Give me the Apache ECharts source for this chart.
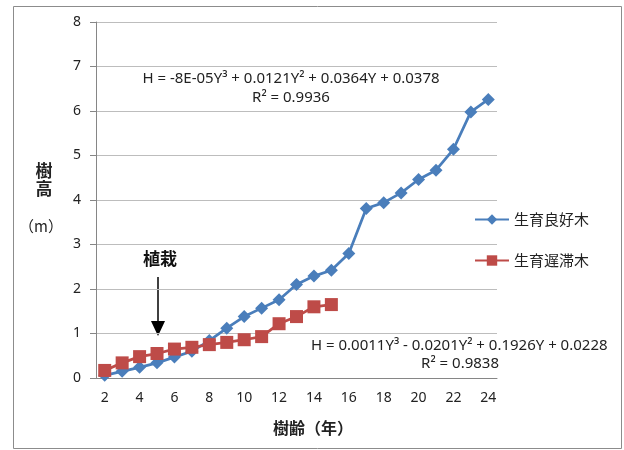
<!DOCTYPE html>
<html>
<head>
<meta charset="utf-8">
<script src="https://cdn.jsdelivr.net/npm/echarts@6/dist/echarts.min.js"></script>
<style>
  html, body { margin: 0; padding: 0; background: #fff; }
  #chart { width: 624px; height: 450px; }
</style>
</head>
<body>
<div id="chart"></div>
<script>
const FONT = '"Noto Sans", "Noto Sans CJK JP", sans-serif';
const JP = '"Noto Sans CJK JP", sans-serif';

const ages = ['2','3','4','5','6','7','8','9','10','11','12','13','14','15','16','17','18','19','20','21','22','23','24'];
const goodTrees = [0.06, 0.15, 0.24, 0.34, 0.47, 0.6, 0.84, 1.12, 1.38, 1.57, 1.76, 2.1, 2.29, 2.42, 2.8, 3.81, 3.94, 4.16, 4.46, 4.67, 5.14, 5.98, 6.26];
const slowTrees = [0.17, 0.34, 0.48, 0.55, 0.65, 0.69, 0.75, 0.8, 0.86, 0.93, 1.22, 1.38, 1.6, 1.65];
const goodName = '生育良好木';
const slowName = '生育遅滞木';
const eqGood = 'H = -8E-05Y³ + 0.0121Y² + 0.0364Y + 0.0378';
const r2Good = 'R² = 0.9936';
const eqSlow = 'H = 0.0011Y³ - 0.0201Y² + 0.1926Y + 0.0228';
const r2Slow = 'R² = 0.9838';

const chart = echarts.init(document.getElementById('chart'), null, { renderer: 'canvas' });

const option = {
  backgroundColor: '#fff',
  animation: false,
  grid: { left: 96, top: 22, width: 401, height: 356, containLabel: false },
  legend: {
    orient: 'vertical',
    left: 474,
    top: 212,
    padding: 0,
    itemGap: 26,
    itemWidth: 34,
    itemHeight: 13,
    textStyle: { fontFamily: JP, fontSize: 15, color: '#222' },
    data: [goodName, slowName]
  },
  xAxis: {
    type: 'category',
    data: ages,
    boundaryGap: true,
    axisLine: { lineStyle: { color: '#868686' } },
    axisTick: { interval: 0, length: 5, lineStyle: { color: '#868686' } },
    axisLabel: {
      interval: function (i) { return i % 2 === 0; },
      fontFamily: FONT, fontSize: 14, color: '#222', margin: 13
    }
  },
  yAxis: {
    type: 'value',
    min: 0, max: 8, interval: 1,
    axisLine: { show: true, lineStyle: { color: '#868686' } },
    axisTick: { show: true, length: 6, lineStyle: { color: '#868686' } },
    axisLabel: { fontFamily: FONT, fontSize: 14, color: '#222', margin: 15 },
    splitLine: { lineStyle: { color: '#bdbdbd' } }
  },
  series: [
    {
      name: goodName,
      type: 'line',
      data: goodTrees,
      symbol: 'diamond',
      symbolSize: 13,
      showAllSymbol: true,
      color: '#4a7ebb',
      lineStyle: { width: 2.75, color: '#4a7ebb' },
      itemStyle: { color: '#4a7ebb' },
      z: 2
    },
    {
      name: slowName,
      type: 'line',
      data: slowTrees,
      symbol: 'rect',
      symbolSize: 13,
      showAllSymbol: true,
      color: '#be4b48',
      lineStyle: { width: 2.75, color: '#be4b48' },
      itemStyle: { color: '#be4b48' },
      z: 3
    }
  ],
  graphic: [
    { type: 'rect', shape: { x: 13.5, y: 6.5, width: 608, height: 442 },
      style: { fill: 'none', stroke: '#8c8c8c', lineWidth: 1 }, silent: true },
    { type: 'text', x: 291, y: 79, style: { text: eqGood, fontFamily: FONT, fontSize: 15, fill: '#222', align: 'center', verticalAlign: 'middle' } },
    { type: 'text', x: 291, y: 98, style: { text: r2Good, fontFamily: FONT, fontSize: 15, fill: '#222', align: 'center', verticalAlign: 'middle' } },
    { type: 'text', x: 311, y: 346, style: { text: eqSlow, fontFamily: FONT, fontSize: 15, fill: '#222', align: 'left', verticalAlign: 'middle' } },
    { type: 'text', x: 499, y: 364, style: { text: r2Slow, fontFamily: FONT, fontSize: 15, fill: '#222', align: 'right', verticalAlign: 'middle' } },
    { type: 'text', x: 44, y: 171, style: { text: '樹', fontFamily: JP, fontSize: 17, fontWeight: 'bold', fill: '#222', align: 'center', verticalAlign: 'middle' } },
    { type: 'text', x: 44, y: 189, style: { text: '高', fontFamily: JP, fontSize: 17, fontWeight: 'bold', fill: '#222', align: 'center', verticalAlign: 'middle' } },
    { type: 'text', x: 41, y: 226, style: { text: '（m）', fontFamily: JP, fontSize: 15, fill: '#222', align: 'center', verticalAlign: 'middle' } },
    { type: 'text', x: 313, y: 428, style: { text: '樹齢（年）', fontFamily: JP, fontSize: 16, fontWeight: 'bold', fill: '#222', align: 'center', verticalAlign: 'middle' } },
    { type: 'text', x: 160, y: 259, style: { text: '植栽', fontFamily: JP, fontSize: 17, fontWeight: 'bold', fill: '#111', align: 'center', verticalAlign: 'middle' } },
    { type: 'line', shape: { x1: 158, y1: 277, x2: 158, y2: 322 }, style: { stroke: '#000', lineWidth: 1.5 } },
    { type: 'polygon', shape: { points: [[151, 321], [165, 321], [158, 336]] }, style: { fill: '#000' } }
  ]
};

chart.setOption(option);
</script>
</body>
</html>
